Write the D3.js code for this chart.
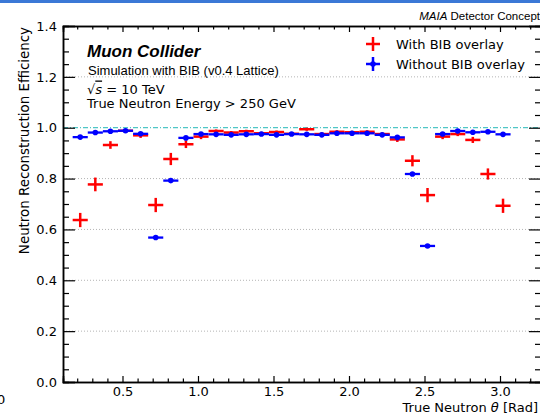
<!DOCTYPE html>
<html>
<head>
<meta charset="utf-8">
<script src="https://cdn.jsdelivr.net/npm/d3@7"></script>
<style>
  body { margin: 0; background: #fff; }
  svg { display: block; }
  text { font-family: "DejaVu Sans", sans-serif; fill: #000; }
  .arial { font-family: "Liberation Sans", Arial, sans-serif; }
</style>
</head>
<body>
<svg id="chart" width="540" height="418"></svg>
<script>
// Bin centres (rad) and efficiencies
const theta = [0.22, 0.32, 0.42, 0.52, 0.62, 0.72, 0.82, 0.92, 1.02, 1.12,
               1.22, 1.32, 1.42, 1.52, 1.62, 1.72, 1.82, 1.92, 2.02, 2.12,
               2.22, 2.32, 2.42, 2.52, 2.62, 2.72, 2.82, 2.92, 3.02];
const binHalf = 0.05;

const effBIB = [0.637, 0.777, 0.932, 0.988, 0.970, 0.696, 0.877, 0.935, 0.965, 0.987,
                0.981, 0.986, 0.978, 0.983, 0.976, 0.994, 0.975, 0.984, 0.982, 0.984,
                0.975, 0.954, 0.870, 0.735, 0.965, 0.975, 0.952, 0.818, 0.693];
const errBIB = [0.028, 0.027, 0.015, 0.008, 0.010, 0.028, 0.024, 0.015, 0.010, 0.006,
                0.006, 0.006, 0.006, 0.006, 0.006, 0.006, 0.006, 0.006, 0.006, 0.006,
                0.006, 0.010, 0.022, 0.028, 0.010, 0.008, 0.012, 0.022, 0.028];

const effNoBIB = [0.963, 0.981, 0.986, 0.988, 0.976, 0.568, 0.792, 0.960, 0.975, 0.974,
                  0.972, 0.974, 0.975, 0.972, 0.975, 0.974, 0.972, 0.978, 0.978, 0.978,
                  0.972, 0.962, 0.818, 0.535, 0.975, 0.987, 0.982, 0.984, 0.974];
const errNoBIB = [0.005, 0.004, 0.004, 0.004, 0.004, 0.006, 0.006, 0.004, 0.004, 0.004,
                  0.004, 0.004, 0.004, 0.004, 0.004, 0.004, 0.004, 0.004, 0.004, 0.004,
                  0.004, 0.004, 0.006, 0.006, 0.004, 0.004, 0.004, 0.004, 0.004];

const xMajor = [0.5, 1.0, 1.5, 2.0, 2.5, 3.0];
const yMajor = [0.0, 0.2, 0.4, 0.6, 0.8, 1.0, 1.2, 1.4];
const gridY = [0.2, 0.4, 0.6, 0.8, 1.2];

const svg = d3.select("#chart");
const mLeft = 63, mRight = 541, mTop = 26, mBottom = 382;

const x = d3.scaleLinear().domain([0.106, 3.2715]).range([mLeft, mRight]);
const y = d3.scaleLinear().domain([0, 1.4]).range([mBottom, mTop]);

const xMinor = d3.range(0.2, 3.27, 0.1).filter(v => Math.abs(v * 2 - Math.round(v * 2)) > 1e-6);
const yMinor = d3.range(0, 1.401, 0.05).filter(v => Math.abs(v * 5 - Math.round(v * 5)) > 1e-6);

// blue strip at the very top
svg.append("rect").attr("x", 0).attr("y", 0).attr("width", 540).attr("height", 3).attr("fill", "#3b78d6");

// grid
svg.append("g").selectAll("line").data(gridY).join("line")
  .attr("x1", mLeft).attr("x2", mRight)
  .attr("y1", d => y(d)).attr("y2", d => y(d))
  .attr("stroke", "#b4b4b4").attr("stroke-width", 1).attr("stroke-dasharray", "1,2");

// reference line at 1
svg.append("line")
  .attr("x1", mLeft).attr("x2", mRight).attr("y1", y(1)).attr("y2", y(1))
  .attr("stroke", "#22b8b8").attr("stroke-width", 1).attr("stroke-dasharray", "5,2,1,2");

// axes
svg.append("g").attr("transform", `translate(0,${mBottom})`)
  .call(d3.axisBottom(x).tickValues(xMajor).tickSize(-6).tickPadding(5).tickFormat(d3.format(".1f")));
svg.append("g").attr("transform", `translate(0,${mBottom})`)
  .call(d3.axisBottom(x).tickValues(xMinor).tickSize(-3.5).tickFormat(""));
svg.append("g").attr("transform", `translate(0,${mTop})`)
  .call(d3.axisTop(x).tickValues(xMajor).tickSize(-6).tickFormat(""));
svg.append("g").attr("transform", `translate(0,${mTop})`)
  .call(d3.axisTop(x).tickValues(xMinor).tickSize(-3.5).tickFormat(""));

svg.append("g").attr("transform", `translate(${mLeft},0)`)
  .call(d3.axisLeft(y).tickValues(yMajor).tickSize(-12).tickPadding(6).tickFormat(d3.format(".1f")));
svg.append("g").attr("transform", `translate(${mLeft},0)`)
  .call(d3.axisLeft(y).tickValues(yMinor).tickSize(-6).tickFormat(""));
svg.append("g").attr("transform", `translate(${mRight},0)`)
  .call(d3.axisRight(y).tickValues(yMajor).tickSize(-12).tickFormat(""));
svg.append("g").attr("transform", `translate(${mRight},0)`)
  .call(d3.axisRight(y).tickValues(yMinor).tickSize(-6).tickFormat(""));

svg.selectAll(".domain").attr("stroke", "#000").attr("stroke-width", 1.5);
svg.selectAll(".tick line").attr("stroke", "#000").attr("stroke-width", 1.2);
svg.selectAll(".tick text").style("font-size", "13px").style("font-family", "DejaVu Sans");

// data: with BIB (red crosses)
const red = svg.append("g");
theta.forEach((t, i) => {
  red.append("line").attr("x1", x(t - binHalf)).attr("x2", x(t + binHalf))
    .attr("y1", y(effBIB[i])).attr("y2", y(effBIB[i]))
    .attr("stroke", "#ff0000").attr("stroke-width", 2.5);
  red.append("line").attr("x1", x(t)).attr("x2", x(t))
    .attr("y1", y(effBIB[i] - errBIB[i])).attr("y2", y(effBIB[i] + errBIB[i]))
    .attr("stroke", "#ff0000").attr("stroke-width", 2.5);
});

// without BIB (blue)
const blue = svg.append("g");
theta.forEach((t, i) => {
  blue.append("line").attr("x1", x(t - binHalf)).attr("x2", x(t + binHalf))
    .attr("y1", y(effNoBIB[i])).attr("y2", y(effNoBIB[i]))
    .attr("stroke", "#0000ff").attr("stroke-width", 2.3);
  blue.append("line").attr("x1", x(t)).attr("x2", x(t))
    .attr("y1", y(effNoBIB[i] - errNoBIB[i])).attr("y2", y(effNoBIB[i] + errNoBIB[i]))
    .attr("stroke", "#0000ff").attr("stroke-width", 2.3);
  blue.append("circle").attr("cx", x(t)).attr("cy", y(effNoBIB[i])).attr("r", 2.8).attr("fill", "#0000ff");
});

// legend
const leg = svg.append("g");
[["With BIB overlay", "#ff0000", 44, false], ["Without BIB overlay", "#0000ff", 64, true]].forEach(([label, c, ly, dot]) => {
  leg.append("line").attr("x1", 366).attr("x2", 380).attr("y1", ly).attr("y2", ly).attr("stroke", c).attr("stroke-width", 2.5);
  leg.append("line").attr("x1", 373).attr("x2", 373).attr("y1", ly - 7).attr("y2", ly + 7).attr("stroke", c).attr("stroke-width", 2.5);
  if (dot) leg.append("circle").attr("cx", 373).attr("cy", ly).attr("r", 2.8).attr("fill", c);
  leg.append("text").attr("x", 396).attr("y", ly + 4.5).style("font-size", "13px").text(label);
});

// annotations
svg.append("text").attr("class", "arial").attr("x", 87).attr("y", 57)
  .style("font-size", "17px").style("font-weight", "bold").style("font-style", "italic").text("Muon Collider");
svg.append("text").attr("class", "arial").attr("x", 88).attr("y", 74.5)
  .style("font-size", "13px").text("Simulation with BIB (v0.4 Lattice)");
const rs = svg.append("text").attr("x", 87).attr("y", 93.5).style("font-size", "13px");
rs.append("tspan").text("√");
rs.append("tspan").style("font-style", "italic").style("text-decoration", "overline").text("s");
rs.append("tspan").text(" = 10 TeV");
svg.append("text").attr("x", 87).attr("y", 107.5).style("font-size", "13px").text("True Neutron Energy > 250 GeV");

const maia = svg.append("text").attr("class", "arial").attr("x", 540).attr("y", 19.5)
  .attr("text-anchor", "end").style("font-size", "11.5px");
maia.append("tspan").style("font-style", "italic").text("MAIA");
maia.append("tspan").text(" Detector Concept");

// axis titles
svg.append("text").attr("x", 538).attr("y", 412).attr("text-anchor", "end")
  .style("font-size", "13px").html("True Neutron <tspan font-style='italic'>θ</tspan> [Rad]");
svg.append("text").attr("transform", "translate(29,27) rotate(-90)").attr("text-anchor", "end")
  .style("font-size", "13.4px").text("Neutron Reconstruction Efficiency");

// stray label from neighbouring panel
svg.append("text").attr("x", -3).attr("y", 404).style("font-size", "13px").text("0");
</script>
</body>
</html>
